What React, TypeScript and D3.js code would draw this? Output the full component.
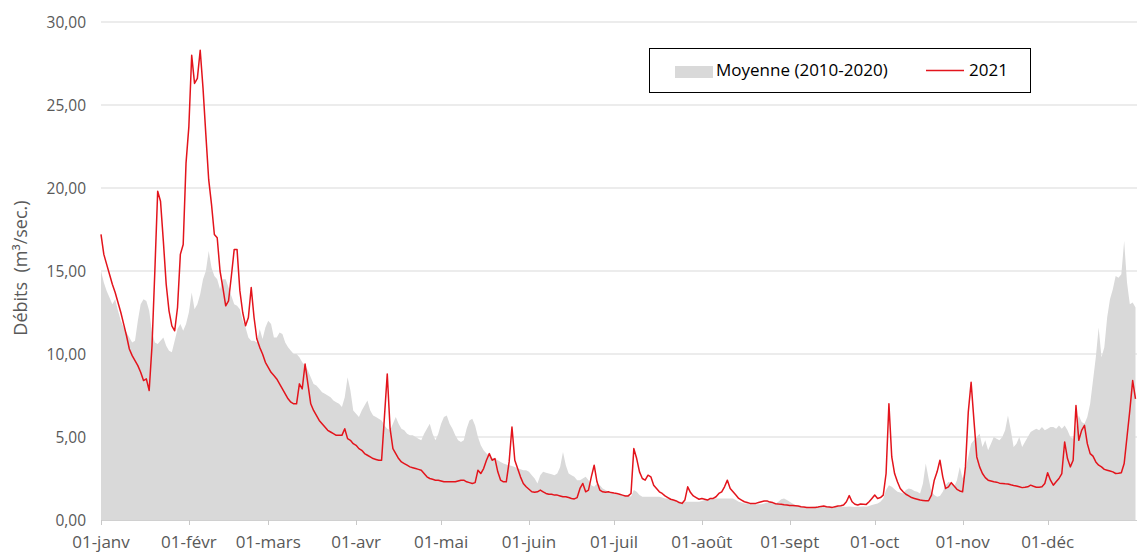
import React from 'react';
import * as d3 from 'd3';

// Day-of-year index (0 = 01-janv) for tick labels
const tickDays = [0, 31, 59, 90, 120, 151, 181, 212, 243, 273, 304, 334];
const tickLabels = ['01-janv', '01-févr', '01-mars', '01-avr', '01-mai', '01-juin', '01-juil', '01-août', '01-sept', '01-oct', '01-nov', '01-déc'];
const yTickValues = [0, 5, 10, 15, 20, 25, 30];
const seriesNames = ['Moyenne (2010-2020)', '2021'];

// Moyenne (2010-2020), daily
const moyenne = [
  15.0, 14.3, 13.8, 13.4, 13.0, 13.3, 12.6, 12.0, 11.6, 11.3,
  11.0, 10.7, 10.8, 12.0, 13.0, 13.3, 13.2, 12.6, 11.3, 10.7,
  10.6, 10.8, 11.0, 10.5, 10.2, 10.1, 10.8, 11.5, 11.8, 11.4,
  11.8, 12.5, 13.7, 12.7, 13.0, 13.6, 14.5, 15.0, 16.2, 15.2,
  14.7, 14.5, 13.9, 14.5, 14.5, 14.0, 13.5, 13.0, 12.9, 12.7,
  12.0, 11.6, 11.0, 10.8, 10.8, 10.7, 11.5, 10.9, 11.6, 12.0,
  11.8, 11.0, 11.0, 11.3, 11.2, 10.7, 10.4, 10.2, 10.0, 10.0,
  9.8, 9.5, 9.3, 9.0, 8.6, 8.2, 8.1, 7.9, 7.7, 7.6,
  7.5, 7.4, 7.2, 7.1, 7.0, 6.8, 7.4, 8.6, 7.8, 6.6,
  6.4, 6.2, 6.6, 6.9, 7.2, 6.6, 6.3, 6.2, 6.1, 6.0,
  5.7, 5.5, 5.4, 5.8, 6.2, 5.8, 5.5, 5.4, 5.2, 5.1,
  5.1, 5.0, 4.9, 4.8, 5.2, 5.5, 5.8, 5.2, 4.8, 5.2,
  5.8, 6.2, 6.3, 5.8, 5.5, 5.1, 4.8, 4.7, 4.8, 5.5,
  6.0, 6.1, 5.7, 5.0, 4.5, 4.2, 4.0, 3.9, 3.75, 3.7,
  3.6, 3.5, 3.4, 3.35, 3.3, 3.25, 3.2, 3.1, 3.05, 3.0,
  3.0, 2.9, 2.7, 2.5, 2.2, 2.7, 2.9, 2.85, 2.8, 2.75,
  2.7, 2.8, 3.2, 4.1, 3.3, 2.8, 2.7, 2.6, 2.4, 2.4,
  2.5, 2.6, 2.4, 2.1, 2.0, 2.2, 2.1, 1.9, 1.8, 1.7,
  1.65, 1.6, 1.55, 1.5, 1.5, 1.5, 1.5, 1.4, 1.8, 1.7,
  1.5, 1.4, 1.4, 1.4, 1.4, 1.4, 1.4, 1.4, 1.35, 1.3,
  1.3, 1.25, 1.2, 1.15, 1.1, 1.1, 1.1, 1.1, 1.1, 1.1,
  1.1, 1.1, 1.15, 1.2, 1.25, 1.3, 1.3, 1.3, 1.3, 1.3,
  1.3, 1.3, 1.3, 1.3, 1.2, 1.1, 1.05, 1.0, 1.0, 0.97,
  0.95, 0.95, 0.95, 0.95, 1.0, 1.05, 1.1, 1.05, 1.0, 1.1,
  1.25, 1.3, 1.2, 1.1, 1.0, 0.9, 0.85, 0.82, 0.8, 0.8,
  0.78, 0.8, 0.82, 0.8, 0.78, 0.8, 0.8, 0.82, 0.8, 0.78,
  0.8, 0.82, 0.8, 0.8, 0.82, 0.8, 0.78, 0.8, 0.8, 0.82,
  0.8, 0.85, 0.9, 0.95, 1.0, 1.1, 1.3, 1.8, 2.1, 2.0,
  1.85, 1.7, 1.65, 1.6, 1.8, 1.9, 1.85, 1.75, 1.7, 1.6,
  2.2, 3.4, 2.5, 1.7, 1.5, 1.4, 1.45, 1.7, 2.1, 2.3,
  2.2, 2.0, 2.4, 3.2, 2.5, 3.0, 3.8, 4.6, 4.8, 5.0,
  5.2, 4.4, 4.8, 4.2, 4.6, 5.0, 4.9, 4.8, 5.0, 5.4,
  6.3, 5.4, 4.4, 4.6, 5.0, 4.4, 4.7, 5.0, 5.3, 5.4,
  5.5, 5.4, 5.6, 5.4, 5.5, 5.6, 5.6, 5.5, 5.7, 5.5,
  5.7, 5.4, 5.0, 4.9, 5.6, 6.3, 5.9, 5.8, 6.2, 7.0,
  8.4, 9.8, 11.6, 9.8, 10.4, 12.2, 13.3, 13.9, 14.7, 14.6,
  14.8, 16.8, 14.3, 13.0, 13.1, 12.8
];

// 2021, daily
const annee2021 = [
  17.2, 16.0, 15.4, 14.8, 14.2, 13.7, 13.1, 12.5, 11.8, 11.1,
  10.3, 9.9, 9.6, 9.3, 8.9, 8.4, 8.5, 7.8, 10.5, 15.0,
  19.8, 19.2, 16.8, 14.2, 12.6, 11.7, 11.4, 12.8, 16.0, 16.6,
  21.5, 23.7, 28.0, 26.3, 26.6, 28.3, 26.0, 23.2, 20.5, 19.0,
  17.2, 17.0, 15.0, 14.0, 12.9, 13.2, 14.7, 16.3, 16.3, 13.8,
  12.5, 11.7, 12.2, 14.0, 12.2, 10.9, 10.4, 10.0, 9.5, 9.2,
  8.9, 8.7, 8.5, 8.2, 7.9, 7.6, 7.3, 7.1, 7.0, 7.0,
  8.2, 7.9, 9.4, 8.2, 7.0, 6.6, 6.3, 6.0, 5.8, 5.6,
  5.4, 5.3, 5.2, 5.1, 5.1, 5.1, 5.5, 4.9, 4.8, 4.6,
  4.5, 4.3, 4.2, 4.0, 3.9, 3.8, 3.7, 3.65, 3.6, 3.6,
  6.2, 8.8, 5.5, 4.3, 4.0, 3.7, 3.5, 3.4, 3.3, 3.2,
  3.15, 3.1, 3.05, 3.0, 2.8, 2.6, 2.5, 2.45, 2.4, 2.4,
  2.35, 2.3, 2.3, 2.3, 2.3, 2.3, 2.35, 2.4, 2.4, 2.3,
  2.25, 2.2, 2.25, 3.0, 2.8, 3.1, 3.6, 4.0, 3.6, 3.7,
  2.9, 2.4, 2.3, 2.3, 3.5, 5.6, 3.6, 3.1, 2.6, 2.2,
  2.0, 1.85, 1.7, 1.67, 1.7, 1.8, 1.7, 1.6, 1.55, 1.55,
  1.5, 1.5, 1.45, 1.4, 1.4, 1.35, 1.3, 1.27, 1.35, 1.9,
  2.2, 1.7, 1.8, 2.6, 3.3, 2.3, 1.8, 1.7, 1.67, 1.7,
  1.65, 1.62, 1.6, 1.55, 1.5, 1.45, 1.45, 1.6, 4.3, 3.7,
  2.9, 2.5, 2.4, 2.7, 2.6, 2.1, 1.9, 1.7, 1.6, 1.45,
  1.35, 1.25, 1.2, 1.15, 1.05, 1.0, 1.2, 2.0, 1.65, 1.45,
  1.35, 1.25, 1.3, 1.25, 1.2, 1.3, 1.3, 1.4, 1.6, 1.7,
  2.0, 2.4, 1.9, 1.7, 1.5, 1.3, 1.2, 1.1, 1.05, 1.0,
  1.0, 1.0, 1.05, 1.1, 1.15, 1.15, 1.08, 1.05, 0.98, 0.96,
  0.95, 0.92, 0.9, 0.88, 0.87, 0.86, 0.84, 0.8, 0.78, 0.76,
  0.76, 0.76, 0.76, 0.78, 0.82, 0.84, 0.8, 0.78, 0.76, 0.8,
  0.84, 0.86, 0.9, 1.1, 1.47, 1.1, 0.95, 0.9, 0.96, 0.95,
  0.94, 1.1, 1.3, 1.5, 1.3, 1.35, 1.5, 2.8, 7.0, 3.8,
  2.8, 2.3, 1.9, 1.7, 1.55, 1.45, 1.35, 1.3, 1.25, 1.2,
  1.18, 1.16, 1.16, 1.5, 2.4, 2.9, 3.6, 2.6, 1.9, 2.0,
  2.25, 2.05, 1.85, 1.75, 1.7, 3.2, 6.5, 8.3, 6.0, 3.8,
  3.2, 2.8, 2.55, 2.4, 2.35, 2.3, 2.28, 2.22, 2.2, 2.18,
  2.17, 2.12, 2.08, 2.05, 2.0, 1.95, 1.97, 2.0, 2.1, 2.03,
  1.97, 1.98, 2.0, 2.2, 2.85, 2.4, 2.1, 2.3, 2.5, 2.8,
  4.7, 3.7, 3.2, 3.6, 6.9, 4.8, 5.4, 5.7, 4.6, 4.0,
  3.85, 3.5, 3.3, 3.2, 3.05, 3.0, 2.95, 2.9, 2.8, 2.82,
  2.85, 3.4, 5.0, 6.6, 8.4, 7.3
];

const W = 1137;
const H = 554;
const plotLeft = 101;
const plotRight = 1137;
const plotTop = 22;
const plotBottom = 520;
const labelColor = '#595959';
const gridColor = '#d9d9d9';
const areaColor = '#d9d9d9';
const lineColor = '#e3141c';
const font = "'Open Sans', 'DejaVu Sans', sans-serif";

const fmt = (v: number) => v.toFixed(2).replace('.', ',');

export default function App() {
  const x = d3.scaleLinear().domain([0, 365]).range([plotLeft, 1135.5]);
  const y = d3.scaleLinear().domain([0, 30]).range([plotBottom, plotTop]);

  const areaGen = d3
    .area<number>()
    .x((_, i) => x(i))
    .y0(y(0))
    .y1((d) => y(d));
  const lineGen = d3
    .line<number>()
    .x((_, i) => x(i))
    .y((d) => y(d));

  return (
    <svg
      width={W}
      height={H}
      style={{ position: 'absolute', left: 0, top: 0, background: '#fff' }}
      fontFamily={font}
    >
      <rect x={0} y={0} width={W} height={H} fill="#fff" />
      {/* grid */}
      {yTickValues.filter((v) => v > 0).map((v) => (
        <line key={v} x1={plotLeft} x2={plotRight} y1={y(v)} y2={y(v)} stroke={gridColor} strokeWidth={1} />
      ))}
      {/* area */}
      <path d={areaGen(moyenne) || ''} fill={areaColor} stroke="none" />
      {/* axis line and ticks */}
      <line x1={plotLeft} x2={plotRight} y1={plotBottom + 0.5} y2={plotBottom + 0.5} stroke="#d0d0d0" />
      {tickDays.map((d) => (
        <line key={d} x1={Math.round(x(d)) + 0.5} x2={Math.round(x(d)) + 0.5} y1={plotBottom} y2={plotBottom + 5} stroke="#c8c8c8" />
      ))}
      {/* line */}
      <path d={lineGen(annee2021) || ''} fill="none" stroke={lineColor} strokeWidth={1.5} strokeLinejoin="round" />
      {/* y labels */}
      {yTickValues.map((v) => (
        <text key={v} x={86} y={y(v)} dy="0.36em" textAnchor="end" fontSize={15.5} fill={labelColor}>
          {fmt(v)}
        </text>
      ))}
      {/* x labels */}
      {tickDays.map((d, i) => (
        <text key={d} x={x(d)} y={548} textAnchor="middle" fontSize={17} fill={labelColor}>
          {tickLabels[i]}
        </text>
      ))}
      {/* y title */}
      <text
        transform={`translate(21, ${268}) rotate(-90)`}
        textAnchor="middle"
        dy="0.35em"
        fontSize={18}
        fill={labelColor}
        style={{ whiteSpace: 'pre' }}
      >
        {'Débits  (m³/sec.)'}
      </text>
      {/* legend */}
      <g>
        <rect x={649.5} y={48.5} width={381} height={44} fill="#fff" stroke="#000" strokeWidth={1} />
        <rect x={675} y={66} width={38} height={12} fill={areaColor} />
        <text x={716} y={70} dy="0.35em" fontSize={17} fill="#000">
          {seriesNames[0]}
        </text>
        <line x1={926} x2={964} y1={70.5} y2={70.5} stroke={lineColor} strokeWidth={1.5} />
        <text x={969} y={70} dy="0.35em" fontSize={17} fill="#000">
          {seriesNames[1]}
        </text>
      </g>
    </svg>
  );
}
